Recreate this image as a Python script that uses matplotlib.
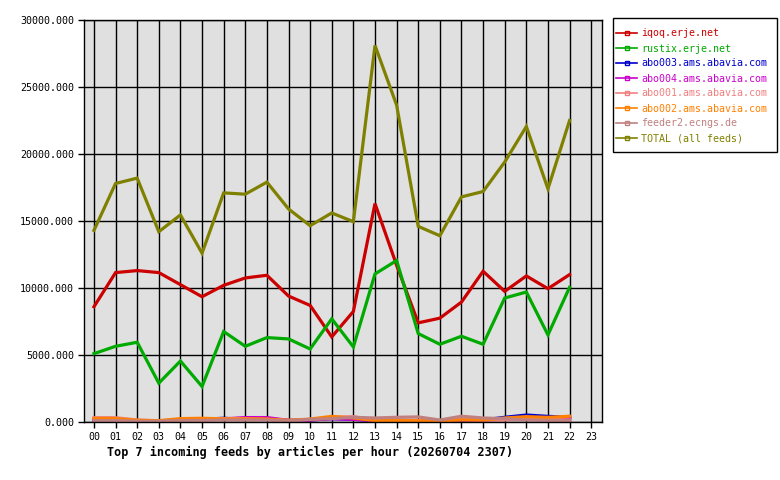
import numpy as np
import matplotlib
matplotlib.use("Agg")
import matplotlib.pyplot as plt
from matplotlib.lines import Line2D
from matplotlib.patches import Rectangle

plt.rcParams['font.family'] = 'DejaVu Sans Mono'

hours = list(range(23))   # 00..22 have data
hour_labels = ['%02d' % h for h in range(24)]

feeds = ['iqoq.erje.net', 'rustix.erje.net', 'abo003.ams.abavia.com',
         'abo004.ams.abavia.com', 'abo001.ams.abavia.com',
         'abo002.ams.abavia.com', 'feeder2.ecngs.de', 'TOTAL (all feeds)']
colors = ['#cc0000', '#00aa00', '#0000cc', '#cc00cc', '#f08080',
          '#ff8000', '#c08080', '#808000']

iqoq = [8600, 11150, 11300, 11150, 10250, 9350, 10200, 10750, 10950, 9400,
        8700, 6350, 8250, 16300, 11700, 7400, 7750, 8950, 11250, 9750,
        10900, 9950, 11000]
rustix = [5100, 5650, 5950, 2900, 4550, 2650, 6750, 5650, 6300, 6200,
          5450, 7700, 5600, 11050, 12050, 6600, 5800, 6400, 5800, 9250,
          9700, 6500, 10050]
abo003 = [150, 150, 80, 80, 150, 200, 280, 200, 200, 120,
          150, 250, 200, 100, 100, 80, 80, 150, 150, 350,
          520, 420, 350]
abo004 = [150, 150, 80, 80, 150, 200, 230, 330, 330, 120,
          150, 250, 200, 100, 100, 80, 80, 150, 150, 200,
          250, 250, 250]
abo001 = [320, 320, 150, 80, 200, 250, 250, 250, 200, 120,
          180, 350, 400, 150, 150, 120, 100, 200, 150, 150,
          200, 200, 150]
abo002 = [260, 260, 130, 100, 250, 280, 230, 230, 220, 120,
          220, 420, 300, 100, 100, 90, 100, 150, 150, 300,
          400, 350, 430]
feeder2 = [100, 100, 60, 60, 100, 120, 150, 150, 150, 80,
           200, 250, 350, 300, 350, 380, 150, 430, 300, 250,
           150, 120, 100]
total = [14300, 17800, 18200, 14200, 15450, 12600, 17100, 17000, 17900, 15900,
         14650, 15600, 14950, 28100, 23650, 14600, 13900, 16800, 17200, 19400,
         22050, 17400, 22500]

series = [iqoq, rustix, abo003, abo004, abo001, abo002, feeder2, total]

fig = plt.figure(figsize=(7.8, 4.8), dpi=100)
ax = fig.add_axes([84/780, 58/480, 518/780, 402/480])
ax.set_facecolor('#e0e0e0')

for vals, c in zip(series, colors):
    ax.plot(hours, vals, color=c, lw=2.3, solid_joinstyle='miter')

ax.set_xlim(-0.46, 23.5)
ax.set_ylim(0, 30000)
ax.set_xticks(range(24))
ax.set_xticklabels(hour_labels)
ax.set_yticks(np.arange(0, 30001, 5000))
ax.set_yticklabels(['%.3f' % v for v in np.arange(0, 30001, 5000)])
ax.grid(True, color='black', lw=1)
ax.set_axisbelow(True)
ax.tick_params(direction='out', length=4, width=1, labelsize=7.2, pad=3)
for s in ax.spines.values():
    s.set_linewidth(1)

# legend without its own frame; box drawn separately
handles = [Line2D([0], [0], color=c, lw=1.2, marker='s', markersize=3,
                  markerfacecolor='none', markeredgewidth=1)
           for c in colors]
leg = fig.legend(handles, feeds, loc='upper left',
                 bbox_to_anchor=(611/780, 1 - 23.5/480), frameon=False,
                 fontsize=7.2, handlelength=2.1,
                 handletextpad=0.4, labelspacing=0.5, borderpad=0.5,
                 borderaxespad=0)
for t, c in zip(leg.get_texts(), colors):
    t.set_color(c)
fig.patches.append(Rectangle((613/780, 1 - 152/480), 164/780, 134/480,
                             transform=fig.transFigure, fill=False,
                             edgecolor='black', lw=1))

fig.text(310/780, 1 - 452/480, 'Top 7 incoming feeds by articles per hour (20260704 2307)',
         ha='center', va='center', fontsize=8.5, fontweight='bold')

fig.savefig('out.png', dpi=100, facecolor='white')
